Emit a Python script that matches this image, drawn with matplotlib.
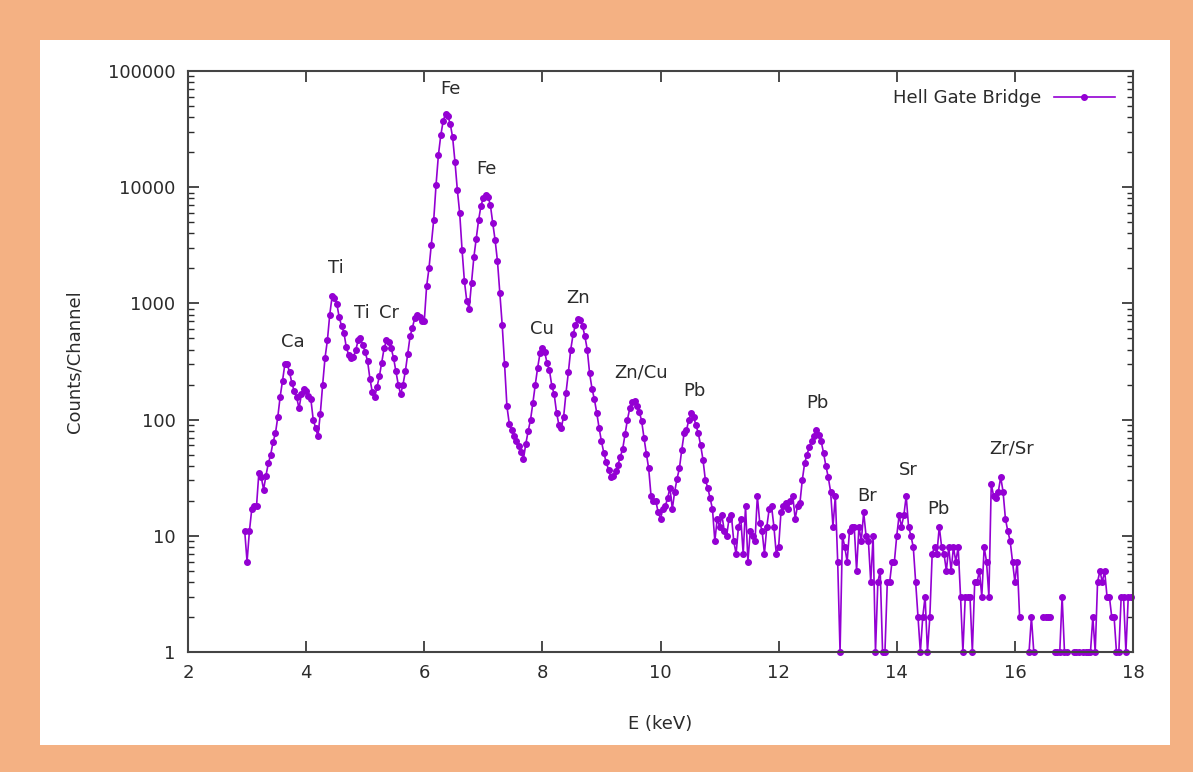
import numpy as np
import matplotlib
matplotlib.use("Agg")
import matplotlib.pyplot as plt
from matplotlib.patches import Rectangle
from matplotlib.ticker import FixedLocator, FuncFormatter, LogLocator, NullFormatter

# spectrum: channel calibration and counts per channel (0 = empty channel)
e_start = 2.96
e_step = 0.04
counts = [
    11, 6, 11, 17, 18, 18, 35, 32, 25, 33,
    42, 50, 64, 76, 105, 157, 215, 300, 300, 255,
    205, 175, 155, 125, 165, 185, 175, 160, 150, 100,
    85, 72, 112, 200, 340, 480, 800, 1150, 1120, 990,
    760, 640, 560, 420, 360, 340, 345, 395, 480, 500,
    440, 380, 320, 225, 173, 155, 190, 235, 310, 410,
    480, 470, 410, 340, 260, 200, 165, 200, 260, 370,
    520, 620, 750, 790, 760, 710, 700, 1400, 2000, 3200,
    5200, 10500, 19000, 28000, 37000, 43000, 41000, 35000, 27000, 16600,
    9500, 6000, 2900, 1550, 1050, 900, 1500, 2500, 3600, 5200,
    6900, 8100, 8600, 8300, 7000, 4900, 3500, 2300, 1220, 650,
    300, 130, 92, 82, 72, 65, 59, 53, 46, 62,
    80, 100, 140, 200, 280, 372, 410, 380, 305, 265,
    195, 165, 115, 90, 85, 106, 170, 255, 400, 540,
    650, 740, 720, 640, 520, 400, 250, 185, 150, 115,
    85, 65, 52, 43, 37, 32, 33, 36, 41, 48,
    56, 75, 100, 125, 143, 145, 132, 117, 98, 70,
    51, 38, 22, 20, 20, 16, 14, 17, 18, 21,
    26, 17, 24, 31, 38, 55, 76, 81, 100, 113,
    105, 90, 76, 60, 45, 30, 26, 21, 17, 9,
    14, 12, 15, 11, 10, 14, 15, 9, 7, 12,
    14, 7, 18, 6, 11, 10, 9, 22, 13, 11,
    7, 12, 17, 18, 12, 7, 8, 16, 18, 19,
    17, 20, 22, 14, 18, 19, 30, 42, 50, 58,
    66, 72, 81, 74, 65, 52, 40, 32, 24, 12,
    22, 6, 1, 10, 8, 6, 11, 12, 12, 5,
    12, 9, 16, 10, 9, 4, 10, 1, 4, 5,
    1, 1, 4, 4, 6, 6, 10, 15, 12, 15,
    22, 12, 10, 8, 4, 2, 1, 2, 3, 1,
    2, 7, 8, 7, 12, 8, 7, 5, 8, 5,
    8, 6, 8, 3, 1, 3, 3, 3, 1, 4,
    4, 5, 3, 8, 6, 3, 28, 22, 21, 24,
    32, 24, 14, 11, 9, 6, 4, 6, 2, 0,
    0, 0, 1, 2, 1, 0, 0, 0, 2, 2,
    2, 2, 0, 1, 1, 1, 3, 1, 1, 0,
    0, 1, 1, 1, 0, 1, 1, 1, 1, 2,
    1, 4, 5, 4, 5, 3, 3, 2, 2, 1,
    1, 3, 3, 1, 3, 3,
]

# peak annotations: text, energy (keV), height (counts)
peak_names = ["Ca", "Ti", "Ti", "Cr", "Fe", "Fe", "Cu", "Zn", "Zn/Cu",
              "Pb", "Pb", "Br", "Sr", "Pb", "Zr/Sr"]
peak_e = [3.78, 4.50, 4.95, 5.40, 6.44, 7.06, 7.99, 8.60, 9.67,
          10.57, 12.65, 13.50, 14.19, 14.70, 15.95]
peak_y = [465, 2020, 827, 827, 70000, 14350, 600, 1110, 252,
          176, 139, 22, 37, 17, 56]

x_ticks = [2, 4, 6, 8, 10, 12, 14, 16, 18]
y_ticks = [1, 10, 100, 1000, 10000, 100000]

purple = "#9400D3"
orange = "#F4B183"
txt = "#2b2b2b"

energy = e_start + e_step * np.arange(len(counts))
y = np.array(counts, dtype=float)
y[y <= 0] = np.nan  # gnuplot drops log(0)

fig = plt.figure(figsize=(11.93, 7.72), dpi=100)
fig.patch.set_facecolor(orange)
fig.patches.append(Rectangle((40 / 1193, 1 - 745 / 772), 1130 / 1193, 705 / 772,
                             transform=fig.transFigure, facecolor="white",
                             edgecolor="none", zorder=-10))

ax = fig.add_axes([188 / 1193, 1 - 652 / 772, 945 / 1193, 581 / 772])
ax.set_facecolor("white")
ax.set_zorder(5)

ax.plot(energy, y, color=purple, lw=1.2, marker="o", ms=4,
        label="Hell Gate Bridge", clip_on=False)

ax.set_yscale("log")
ax.set_xlim(2, 18)
ax.set_ylim(1, 100000)

ax.xaxis.set_major_locator(FixedLocator(x_ticks))
ax.yaxis.set_major_locator(FixedLocator(y_ticks))
ax.yaxis.set_minor_locator(LogLocator(base=10, subs=np.arange(2, 10)))
ax.yaxis.set_minor_formatter(NullFormatter())
ax.yaxis.set_major_formatter(FuncFormatter(lambda v, p: "%d" % v))

ax.tick_params(which="both", direction="in", top=True, right=True,
               colors=txt, labelsize=13, labelcolor=txt)
ax.tick_params(which="major", length=8, width=1.2, pad=9)
ax.tick_params(which="minor", length=4, width=1.0)
for s in ax.spines.values():
    s.set_linewidth(1.5)
    s.set_color("#444444")

for name, e, h in zip(peak_names, peak_e, peak_y):
    ax.text(e, h, name, ha="center", va="center", fontsize=13, color=txt)

fig.text(75 / 1193, 1 - 362 / 772, "Counts/Channel", rotation=90,
         ha="center", va="center", fontsize=13, color=txt, zorder=6)
fig.text(660 / 1193, 1 - 724 / 772, "E (keV)", ha="center", va="center",
         fontsize=13, color=txt, zorder=6)

leg = ax.legend(loc="upper right", frameon=False, markerfirst=False,
                fontsize=13, handlelength=3.4, borderaxespad=0.6,
                handletextpad=0.7)
for t in leg.get_texts():
    t.set_color(txt)

fig.savefig("out.png", dpi=100, facecolor=fig.get_facecolor())
